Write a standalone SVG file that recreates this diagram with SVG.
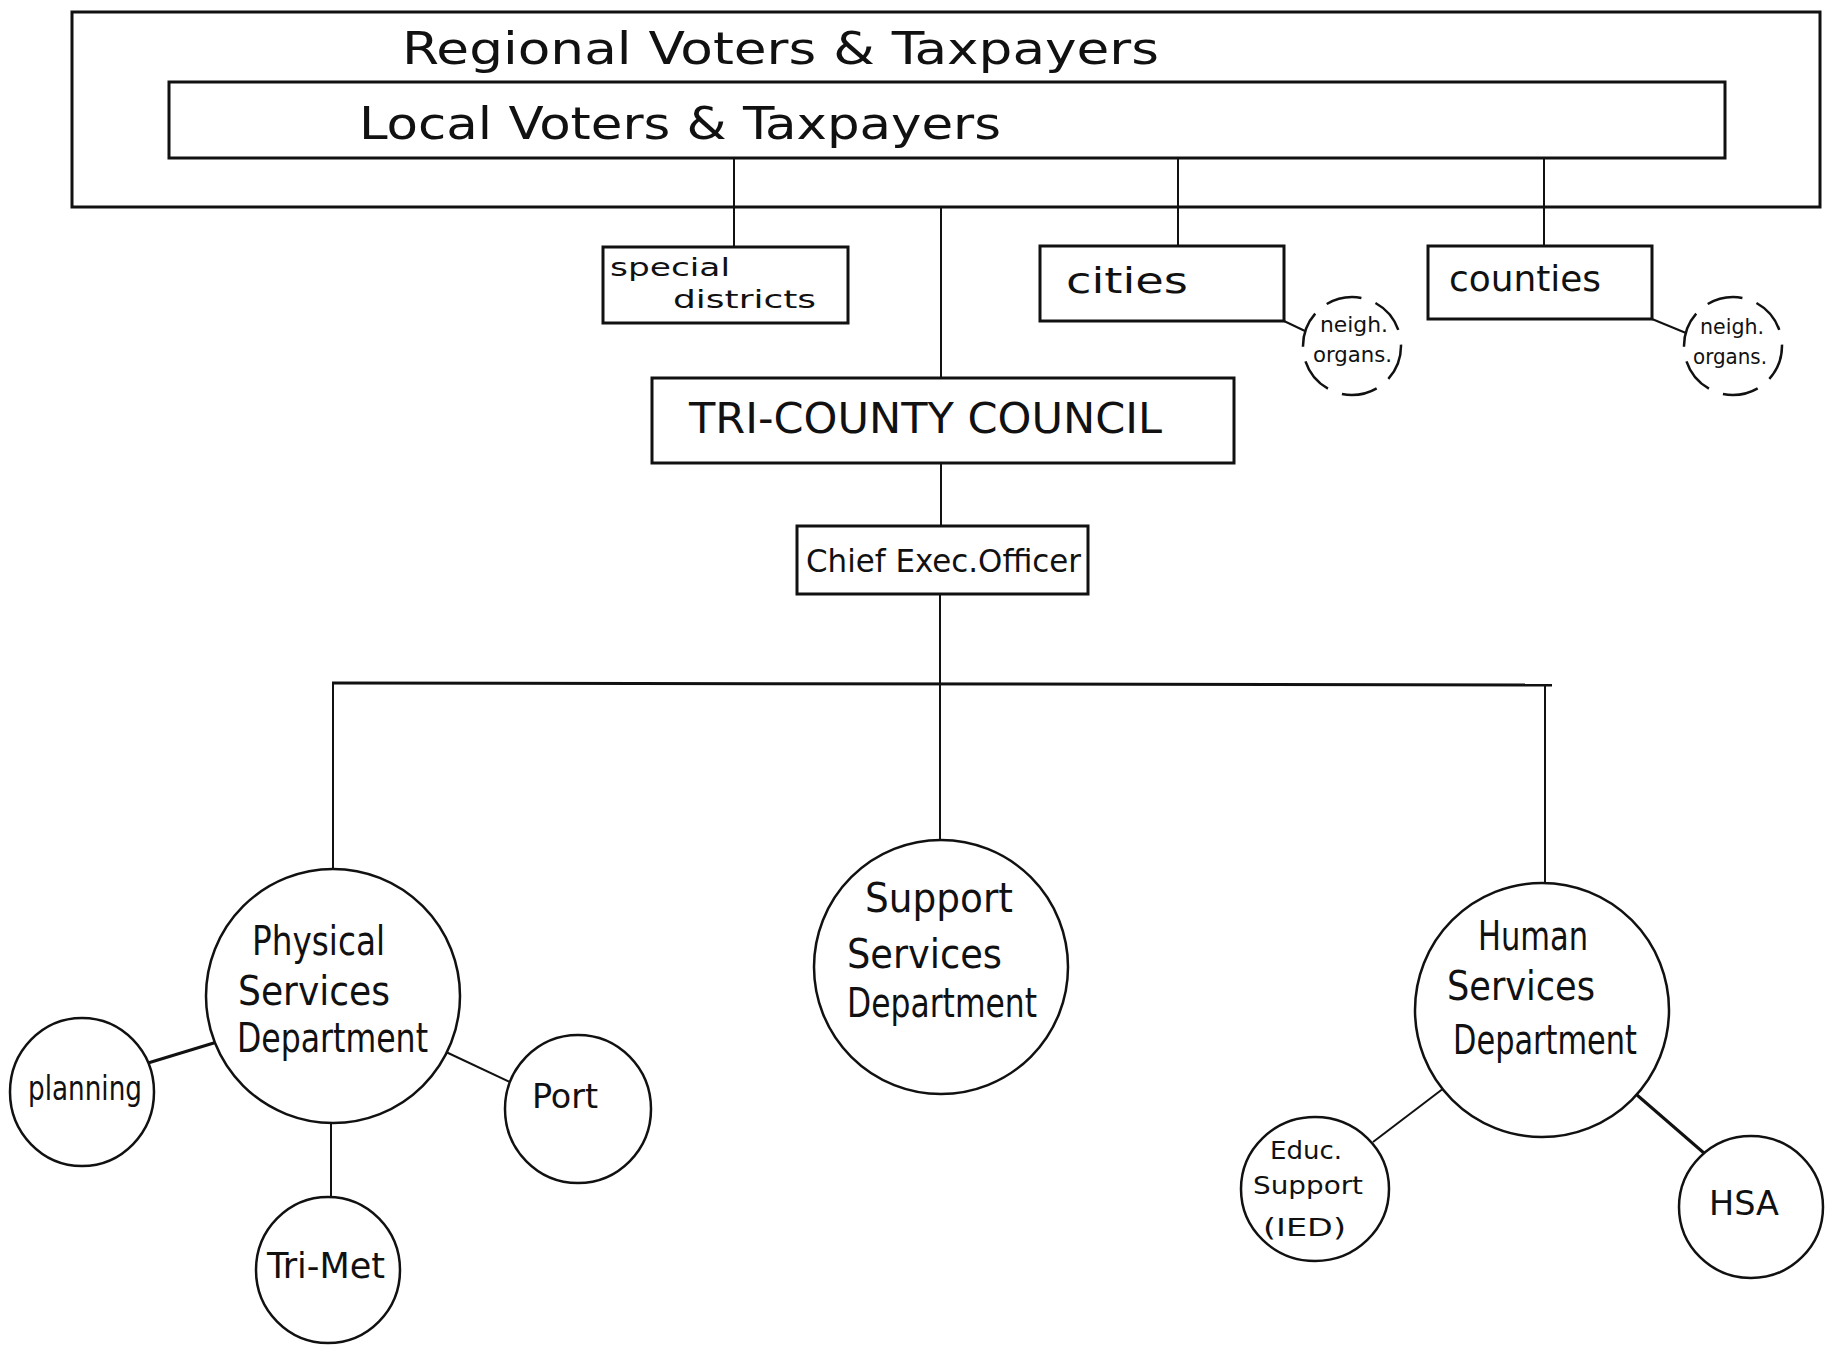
<svg xmlns="http://www.w3.org/2000/svg" width="1826" height="1346" viewBox="0 0 1826 1346">
<style>
.bx{fill:none;stroke:#111;stroke-width:3}
.c{fill:#fff;stroke:#111;stroke-width:2.5}
.d{fill:#fff;stroke:#111;stroke-width:2.5;stroke-dasharray:36 15}
.ln{fill:none;stroke:#111;stroke-width:2}
.lt{fill:none;stroke:#111;stroke-width:3}
text{font-family:"DejaVu Sans Condensed","DejaVu Sans","Liberation Sans",sans-serif;fill:#111}
.t44{font-size:44px}
.t42{font-size:42px}
.t40{font-size:40px}
.t36{font-size:36px}
.t34{font-size:34px}
.t32{font-size:32px}
.t25{font-size:25px}
.t24{font-size:25px}
.t22{font-size:22px}
</style>
<rect width="1826" height="1346" fill="#fff"/>
<g id="connectors">
<line class="ln" x1="734" y1="158" x2="734" y2="247"/>
<line class="ln" x1="1178" y1="158" x2="1178" y2="246"/>
<line class="ln" x1="1544" y1="158" x2="1544" y2="246"/>
<line class="ln" x1="941" y1="207" x2="941" y2="378"/>
<line class="ln" x1="1284" y1="321" x2="1305" y2="331"/>
<line class="ln" x1="1652" y1="319" x2="1686" y2="333"/>
<line class="ln" x1="941" y1="463" x2="941" y2="526"/>
<line class="ln" x1="940" y1="594" x2="940" y2="683"/>
<line class="lt" x1="332" y1="683" x2="1552" y2="685"/>
<line class="ln" x1="333" y1="683" x2="333" y2="869"/>
<line class="ln" x1="940" y1="683" x2="940" y2="840"/>
<line class="ln" x1="1545" y1="685" x2="1545" y2="883"/>
<line class="lt" x1="148" y1="1063" x2="217" y2="1042"/>
<line class="ln" x1="446" y1="1052" x2="510" y2="1082"/>
<line class="ln" x1="331" y1="1123" x2="331" y2="1197"/>
<line class="ln" x1="1444" y1="1088" x2="1373" y2="1142"/>
<line class="lt" x1="1637" y1="1095" x2="1712" y2="1160"/>
</g>
<g id="regional">
<rect class="bx" x="72" y="12" width="1748" height="195"/>
<text class="t44" x="402" y="64" textLength="757" lengthAdjust="spacingAndGlyphs">Regional Voters &amp; Taxpayers</text>
</g>
<g id="local">
<rect class="bx" x="169" y="82" width="1556" height="76"/>
<text class="t44" x="359" y="139" textLength="642" lengthAdjust="spacingAndGlyphs">Local Voters &amp; Taxpayers</text>
</g>
<g id="special-districts">
<rect class="bx" x="603" y="247" width="245" height="76"/>
<text class="t24" x="610" y="276" textLength="120" lengthAdjust="spacingAndGlyphs">special</text>
<text class="t24" x="673" y="308" textLength="143" lengthAdjust="spacingAndGlyphs">districts</text>
</g>
<g id="cities">
<rect class="bx" x="1040" y="246" width="244" height="75"/>
<text class="t36" x="1066" y="293" textLength="122" lengthAdjust="spacingAndGlyphs">cities</text>
</g>
<g id="cities-neigh">
<circle class="d" cx="1352" cy="346" r="49"/>
<text class="t22" x="1320" y="332" textLength="68" lengthAdjust="spacingAndGlyphs">neigh.</text>
<text class="t22" x="1313" y="362" textLength="79" lengthAdjust="spacingAndGlyphs">organs.</text>
</g>
<g id="counties">
<rect class="bx" x="1428" y="246" width="224" height="73"/>
<text class="t36" x="1449" y="291" textLength="152" lengthAdjust="spacingAndGlyphs">counties</text>
</g>
<g id="counties-neigh">
<circle class="d" cx="1733" cy="346" r="49"/>
<text class="t22" x="1700" y="334" textLength="64" lengthAdjust="spacingAndGlyphs">neigh.</text>
<text class="t22" x="1693" y="364" textLength="74" lengthAdjust="spacingAndGlyphs">organs.</text>
</g>
<g id="tri-county-council">
<rect class="bx" x="652" y="378" width="582" height="85"/>
<text class="t42" x="689" y="433" textLength="473" lengthAdjust="spacingAndGlyphs">TRI-COUNTY COUNCIL</text>
</g>
<g id="ceo">
<rect class="bx" x="797" y="526" width="291" height="68"/>
<text class="t32" x="806" y="572" textLength="275" lengthAdjust="spacingAndGlyphs">Chief Exec.Officer</text>
</g>
<g id="physical">
<circle class="c" cx="333" cy="996" r="127"/>
<text class="t40" x="252" y="955" textLength="133" lengthAdjust="spacingAndGlyphs">Physical</text>
<text class="t40" x="238" y="1005" textLength="152" lengthAdjust="spacingAndGlyphs">Services</text>
<text class="t40" x="237" y="1052" textLength="191" lengthAdjust="spacingAndGlyphs">Department</text>
</g>
<g id="support">
<circle class="c" cx="941" cy="967" r="127"/>
<text class="t40" x="865" y="912" textLength="148" lengthAdjust="spacingAndGlyphs">Support</text>
<text class="t40" x="847" y="968" textLength="155" lengthAdjust="spacingAndGlyphs">Services</text>
<text class="t40" x="847" y="1017" textLength="190" lengthAdjust="spacingAndGlyphs">Department</text>
</g>
<g id="human">
<circle class="c" cx="1542" cy="1010" r="127"/>
<text class="t40" x="1478" y="950" textLength="110" lengthAdjust="spacingAndGlyphs">Human</text>
<text class="t40" x="1447" y="1000" textLength="148" lengthAdjust="spacingAndGlyphs">Services</text>
<text class="t40" x="1453" y="1054" textLength="184" lengthAdjust="spacingAndGlyphs">Department</text>
</g>
<g id="planning">
<ellipse class="c" cx="82" cy="1092" rx="72" ry="74"/>
<text class="t34" x="28" y="1100" textLength="114" lengthAdjust="spacingAndGlyphs">planning</text>
</g>
<g id="port">
<ellipse class="c" cx="578" cy="1109" rx="73" ry="74"/>
<text class="t34" x="532" y="1108" textLength="66" lengthAdjust="spacingAndGlyphs">Port</text>
</g>
<g id="tri-met">
<ellipse class="c" cx="328" cy="1270" rx="72" ry="73"/>
<text class="t36" x="267" y="1278" textLength="118" lengthAdjust="spacingAndGlyphs">Tri-Met</text>
</g>
<g id="educ-support">
<ellipse class="c" cx="1315" cy="1189" rx="74" ry="72"/>
<text class="t25" x="1270" y="1159" textLength="72" lengthAdjust="spacingAndGlyphs">Educ.</text>
<text class="t25" x="1253" y="1194" textLength="110" lengthAdjust="spacingAndGlyphs">Support</text>
<text class="t25" x="1263" y="1236" textLength="83" lengthAdjust="spacingAndGlyphs">(IED)</text>
</g>
<g id="hsa">
<ellipse class="c" cx="1751" cy="1207" rx="72" ry="71"/>
<text class="t34" x="1709" y="1215" textLength="70" lengthAdjust="spacingAndGlyphs">HSA</text>
</g>
</svg>
